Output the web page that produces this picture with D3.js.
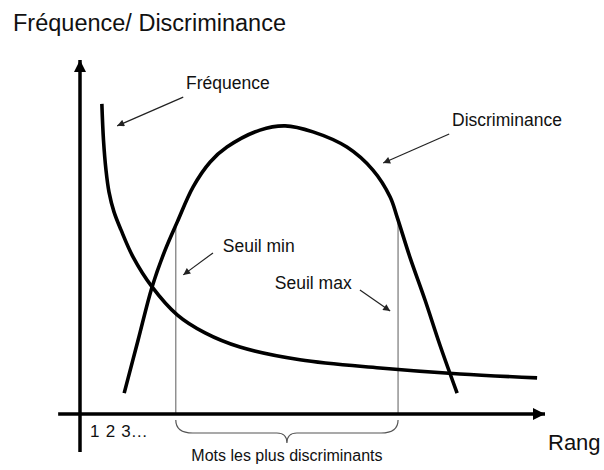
<!DOCTYPE html>
<html>
<head>
<meta charset="utf-8">
<script src="https://cdn.jsdelivr.net/npm/d3@7"></script>
<style>
  html, body { margin: 0; padding: 0; background: #fff; }
  svg { display: block; }
  text { font-family: "Liberation Sans", Arial, sans-serif; fill: #111; }
</style>
</head>
<body>
<svg id="chart" width="604" height="470"></svg>
<script>
// ---- data (rank 0..100, value 0..100) ----
const freqRank  = [4.7, 5.05, 5.59, 6.24, 7.31, 8.82, 11.4, 15.5, 20.9, 26.9, 34.4, 47.3, 64.5, 81.7, 98.3];
const freqValue = [87.6, 77.4, 68.9, 62.7, 57.1, 52.0, 44.4, 35.9, 28.0, 22.9, 18.9, 15.3, 13.0, 11.3, 10.2];

const discRank  = [9.5, 12.5, 15.5, 18.3, 20.9, 24.3, 28.0, 31.6, 38.7, 44.1, 50.1, 57.4, 63.0, 66.7, 68.2, 71.0, 74.2, 77.4, 81.1];
const discValue = [5.9, 20.9, 35.9, 46.3, 54.2, 64.1, 71.2, 75.4, 80.2, 81.4, 79.7, 75.4, 68.9, 61.3, 55.6, 44.1, 32.2, 19.5, 5.9];

const thresholdNames = ["Seuil min", "Seuil max"];
const thresholdRank  = [20.6, 68.4];
const thresholdValue = [54.2, 54.8];

const xTickLabel = "1 2 3\u2026";
const braceLabel = "Mots les plus discriminants";
const xAxisTitle = "Rang";
const yAxisTitle = "Fr\u00e9quence/ Discriminance";

// annotation labels: [text, rank, value], arrows: [fromRank, fromValue, toRank, toValue]
const labelText  = ["Fr\u00e9quence", "Discriminance", "Seuil min", "Seuil max"];
const labelRank  = [22.8, 80.0, 30.7, 41.9];
const labelValue = [91.8, 81.4, 45.8, 35.3];
const arrowFrom  = [[22.2, 89.5], [79.4, 79.1], [28.6, 45.5], [60.2, 35.0]];
const arrowTo    = [[8.0, 81.4], [65.2, 70.9], [22.2, 39.3], [66.7, 29.1]];

// ---- scales ----
const W = 604, H = 470;
const x = d3.scaleLinear().domain([0, 100]).range([80, 545]);
const y = d3.scaleLinear().domain([0, 100]).range([414, 60]);

const svg = d3.select("#chart");

const defs = svg.append("defs");
defs.append("marker").attr("id", "axisHead")
  .attr("viewBox", "0 0 10 10").attr("refX", 10).attr("refY", 5)
  .attr("markerUnits", "userSpaceOnUse")
  .attr("markerWidth", 14).attr("markerHeight", 12).attr("orient", "auto")
  .append("path").attr("d", "M0,0L10,5L0,10Z").attr("fill", "#000");
defs.append("marker").attr("id", "smallHead")
  .attr("viewBox", "0 0 10 10").attr("refX", 10).attr("refY", 5)
  .attr("markerUnits", "userSpaceOnUse")
  .attr("markerWidth", 9).attr("markerHeight", 7).attr("orient", "auto")
  .append("path").attr("d", "M0,0L10,5L0,10Z").attr("fill", "#222");

// ---- threshold verticals ----
thresholdRank.forEach((r, i) => {
  svg.append("line")
    .attr("x1", x(r)).attr("x2", x(r))
    .attr("y1", y(thresholdValue[i])).attr("y2", y(0))
    .attr("stroke", "#777").attr("stroke-width", 1.2);
});

// ---- axes ----
svg.append("line")
  .attr("x1", x(-4.7)).attr("x2", x(100)).attr("y1", y(0)).attr("y2", y(0))
  .attr("stroke", "#000").attr("stroke-width", 3.5)
  .attr("marker-end", "url(#axisHead)");
svg.append("line")
  .attr("x1", x(0)).attr("x2", x(0)).attr("y1", y(-10.7)).attr("y2", y(100))
  .attr("stroke", "#000").attr("stroke-width", 3.5)
  .attr("marker-end", "url(#axisHead)");

// ---- curves ----
const line = d3.line().x(d => x(d[0])).y(d => y(d[1])).curve(d3.curveCatmullRom.alpha(0.5));
svg.append("path")
  .datum(freqRank.map((r, i) => [r, freqValue[i]]))
  .attr("d", line).attr("fill", "none").attr("stroke", "#000").attr("stroke-width", 3.6);
svg.append("path")
  .datum(discRank.map((r, i) => [r, discValue[i]]))
  .attr("d", line).attr("fill", "none").attr("stroke", "#000").attr("stroke-width", 3.6);

// ---- brace ----
{
  const x0 = x(thresholdRank[0]), x1 = x(thresholdRank[1]);
  const xm = (x0 + x1) / 2;
  const top = y(0) + 6, mid = y(0) + 19, tip = y(0) + 29;
  const r = 17;
  const d = `M${x0},${top} Q${x0},${mid} ${x0 + r},${mid} L${xm - 10},${mid} Q${xm},${mid} ${xm},${tip}` +
            ` Q${xm},${mid} ${xm + 10},${mid} L${x1 - r},${mid} Q${x1},${mid} ${x1},${top}`;
  svg.append("path").attr("d", d).attr("fill", "none").attr("stroke", "#555").attr("stroke-width", 1.2);
}

// ---- annotation arrows and labels ----
arrowFrom.forEach((f, i) => {
  svg.append("line")
    .attr("x1", x(f[0])).attr("y1", y(f[1]))
    .attr("x2", x(arrowTo[i][0])).attr("y2", y(arrowTo[i][1]))
    .attr("stroke", "#222").attr("stroke-width", 1.2)
    .attr("marker-end", "url(#smallHead)");
});
labelText.forEach((t, i) => {
  svg.append("text").attr("x", x(labelRank[i])).attr("y", y(labelValue[i]))
    .attr("font-size", 17.5).text(t);
});

// ---- texts ----
svg.append("text").attr("x", 13).attr("y", 31).attr("font-size", 23.5).text(yAxisTitle);
svg.append("text").attr("x", 90).attr("y", 437).attr("font-size", 17)
  .attr("word-spacing", 1.5).text(xTickLabel);
svg.append("text").attr("x", (x(thresholdRank[0]) + x(thresholdRank[1])) / 2).attr("y", 461)
  .attr("text-anchor", "middle").attr("font-size", 16).text(braceLabel);
svg.append("text").attr("x", 548).attr("y", 450).attr("font-size", 22).text(xAxisTitle);
</script>
</body>
</html>
